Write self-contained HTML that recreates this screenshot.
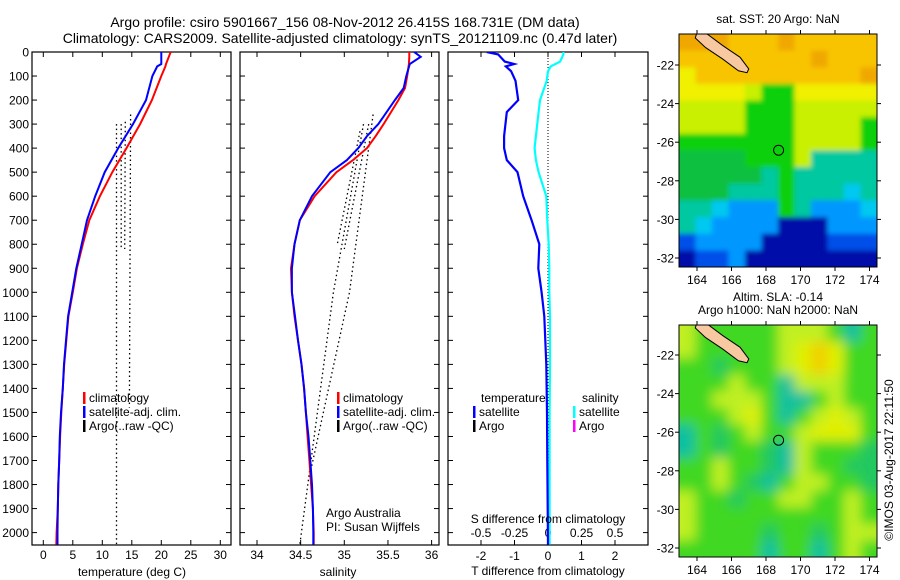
<!DOCTYPE html>
<html><head><meta charset="utf-8"><style>
html,body{margin:0;padding:0;background:#fff;}
svg{display:block;font-family:"Liberation Sans",sans-serif;}
</style></head><body>
<svg id="fig" width="900" height="580" viewBox="0 0 900 580" xmlns="http://www.w3.org/2000/svg">
<defs>
<clipPath id="cp1"><rect x="32" y="52" width="199" height="493"/></clipPath>
<clipPath id="cp2"><rect x="240" y="52" width="199" height="493"/></clipPath>
<clipPath id="cp3"><rect x="448" y="52" width="200" height="493"/></clipPath>
<clipPath id="cm1"><rect x="679" y="34" width="198" height="233"/></clipPath>
<clipPath id="cm2"><rect x="679" y="325" width="198" height="232"/></clipPath>
<filter id="blur" x="-5%" y="-5%" width="110%" height="110%"><feGaussianBlur stdDeviation="6"/></filter>
<filter id="blur1" x="-5%" y="-5%" width="110%" height="110%"><feGaussianBlur stdDeviation="2.5"/></filter>
</defs>
<text x="345" y="27" font-size="14" text-anchor="middle">Argo profile: csiro 5901667_156 08-Nov-2012 26.415S 168.731E (DM data)</text>
<text x="340" y="43" font-size="14" text-anchor="middle">Climatology: CARS2009. Satellite-adjusted climatology: synTS_20121109.nc (0.47d later)</text>
<g id="g1"></g>
<g id="g2"></g>
<g id="g3"></g>
<g id="m1"></g>
<g id="m2"></g>
<text transform="translate(893,460) rotate(-90)" font-size="12" text-anchor="middle">©IMOS 03-Aug-2017 22:11:50</text>
</svg>
<script>
// ---- data ----
const depthT = [0,50,60,100,200,300,400,500,600,700,800,900,1000,1100,1200,1300,1400,1500,1600,1700,1800,1900,2000,2050];
const tempClim = [21.6,20.8,20.7,20.0,18.4,16.4,14.1,11.7,9.6,7.8,6.7,5.7,5.0,4.25,3.9,3.55,3.3,3.05,2.85,2.7,2.55,2.45,2.25,2.2];
const tempSat  = [20.0,20.0,19.3,18.5,17.4,15.2,12.7,10.4,8.8,7.4,6.5,5.6,4.9,4.2,3.85,3.5,3.3,3.0,2.8,2.7,2.55,2.45,2.4,2.4];
const depthS = [0,20,50,100,150,200,300,350,400,450,500,600,700,800,900,1000,1100,1200,1300,1400,1500,1600,1700,1800,1900,2000,2050];
const salClim = [35.745,35.745,35.74,35.72,35.695,35.62,35.45,35.36,35.26,35.10,34.91,34.66,34.49,34.43,34.39,34.40,34.43,34.47,34.51,34.54,34.56,34.58,34.60,34.62,34.64,34.65,34.65];
const salSat  = [35.80,35.875,35.75,35.71,35.68,35.58,35.39,35.26,35.16,35.03,34.84,34.63,34.49,34.43,34.40,34.40,34.435,34.47,34.51,34.54,34.56,34.59,34.61,34.63,34.64,34.645,34.645];
const argoTDepth = [[300,2050],[260,1480],[300,820],[290,820]];
const argoTVal = [[12.4,12.4],[14.8,14.6],[13.2,13.2],[13.9,13.8]];
const argoSDepth = [[300,1000,2050],[260,1000,1750],[300,820],[330,800]];
const argoSVal = [[35.22,34.875,34.49],[35.33,35.06,34.61],[35.28,35.0],[35.18,34.92]];
const depthD = [0,10,40,50,60,80,120,200,250,350,400,450,500,600,700,800,900,1000,1100,1300,1500,1700,1900,2050];
const dTemp = [-1.83,-1.49,-1.29,-1.01,-1.26,-1.1,-0.97,-0.89,-1.23,-1.31,-1.31,-1.23,-0.91,-0.74,-0.49,-0.26,-0.29,-0.19,-0.11,-0.05,-0.03,-0.02,-0.01,0];
const dSal = [0.115,0.115,0.09,0.055,0.02,0,-0.01,-0.06,-0.07,-0.09,-0.1,-0.09,-0.07,-0.013,-0.005,0.005,0.01,0.01,0.015,0.015,0.012,0.012,0.012,0.012];
const depthTicks = [0,100,200,300,400,500,600,700,800,900,1000,1100,1200,1300,1400,1500,1600,1700,1800,1900,2000];
const tempTicks = [0,5,10,15,20,25,30];
const salTicks = [34,34.5,35,35.5,36];
const salTickLabels = ['34','34.5','35','35.5','36'];
const dTTicks = [-2,-1,0,1,2];
const dSTicks = [-0.5,-0.25,0,0.25,0.5];
const dSTickLabels = ['-0.5','-0.25','0','0.25','0.5'];
const lonTicks = [164,166,168,170,172,174];
const latTicks = [-22,-24,-26,-28,-30,-32];
const sstRows = ["OOOoooOooooo","ooooooooOooo","YooooooooooO","YYYYyGGYYYYY","yyyyGGGyyyyy","yyyyGGGyyyyG","GGGGGGGyyyyG","ggggGGGycccc","gggggcGccccc","gggcccGcccCc","ccCbbbGcbbbC","cCbbbbNNNbbb","BbbbbNNNNBBB","NBBbNNNNNNNN"];
const slaRows = ["yGGGGGyyyGcG","yGGGGGyYOYGG","GGgGGGyYOYGG","GGGyGGcyyyGG","GGyyyGccGyGG","GGGyYGcGyYyG","cGgGyGGyYYYG","cGgGGgcyGGGg","GGyGGgcyGGgg","GGyGgcGyyGGg","yGGgGGyyGGyG","yGGGGGGGGGyG","yGGGGgGGgGyy","GGGGGcGGcGyG"];
const landLon = [164.0,164.6,165.5,166.5,167.0,166.9,166.4,165.5,164.5,163.9];
const landLat = [-20.3,-20.4,-21.0,-21.6,-22.2,-22.4,-22.3,-21.7,-21.1,-20.6];
const profLon = 168.73, profLat = -26.415;

// ---- helpers ----
const NS = 'http://www.w3.org/2000/svg';
function mk(parent, tag, attrs, txt){const e=document.createElementNS(NS,tag);for(const k in attrs)e.setAttribute(k,attrs[k]);if(txt!==undefined)e.textContent=txt;parent.appendChild(e);return e;}
const yD = d => 52 + d*0.2403;
const x1 = t => 43.3 + t*5.9;
const x2 = s => 257 + (s-34)*87.3;
const x3 = v => 548 + v*33.5;
const x3s = v => 548 + v*134;
function pathOf(xs, ys, fx){return xs.map((v,i)=>(i?'L':'M')+fx(v).toFixed(1)+','+yD(ys[i]).toFixed(1)).join('');}

function frame(g, x0, x1e, leftLabels){
  const b=mk(g,'rect',{x:x0,y:52,width:x1e-x0,height:493,fill:'none',stroke:'#000','stroke-width':1.2});
  
  
  depthTicks.forEach(d=>{
    const y=yD(d);
    mk(g,'line',{x1:x0,x2:x0+5,y1:y,y2:y,stroke:'#000'});
    mk(g,'line',{x1:x1e-5,x2:x1e,y1:y,y2:y,stroke:'#000'});
    if(leftLabels){const t=mk(g,'text',{x:29,y:y+4.5,'font-size':12,'text-anchor':'end'},String(d));
      
      }
  });
}
function xticks(g, vals, labels, fx, yLab){
  vals.forEach((v,i)=>{const X=fx(v);
    mk(g,'line',{x1:X,x2:X,y1:52,y2:57,stroke:'#000'});
    mk(g,'line',{x1:X,x2:X,y1:540,y2:545,stroke:'#000'});
    const t=mk(g,'text',{x:X,y:yLab,'font-size':12,'text-anchor':'middle'},labels[i]);
    
    
  });
}
function legendEntry(g,x,y,col,label){
  mk(g,'rect',{x:x,y:y-10,width:2.5,height:12,fill:col});
  const t=mk(g,'text',{x:x+6,y:y,'font-size':12},label);
  
  
}

// ---- panel 1: temperature ----
const g1=document.getElementById('g1');
frame(g1,32,231,true);
xticks(g1,tempTicks,tempTicks.map(String),x1,559);
const gc1=mk(g1,'g',{'clip-path':'url(#cp1)'});
argoTVal.forEach((vals,i)=>{const p=mk(gc1,'path',{d:pathOf(vals,argoTDepth[i],x1),stroke:'#000',fill:'none','stroke-width':1.3,'stroke-dasharray':'1.5,3'});
  
  });
let p=mk(gc1,'path',{d:pathOf(tempClim,depthT,x1),stroke:'#f00',fill:'none','stroke-width':2});


p=mk(gc1,'path',{d:pathOf(tempSat,depthT,x1),stroke:'#00f',fill:'none','stroke-width':2});


legendEntry(g1,83,402,'#f00','climatology');
legendEntry(g1,83,416,'#00f','satellite-adj. clim.');
legendEntry(g1,83,430,'#000','Argo(..raw -QC)');
let t=mk(g1,'text',{x:132,y:576,'font-size':12,'text-anchor':'middle'},'temperature (deg C)');



// ---- panel 2: salinity ----
const g2=document.getElementById('g2');
frame(g2,240,439,false);
xticks(g2,salTicks,salTickLabels,x2,559);
const gc2=mk(g2,'g',{'clip-path':'url(#cp2)'});
argoSVal.forEach((vals,i)=>{const q=mk(gc2,'path',{d:pathOf(vals,argoSDepth[i],x2),stroke:'#000',fill:'none','stroke-width':1.3,'stroke-dasharray':'1.5,3'});
  
  });
p=mk(gc2,'path',{d:pathOf(salClim,depthS,x2),stroke:'#f00',fill:'none','stroke-width':2});


p=mk(gc2,'path',{d:pathOf(salSat,depthS,x2),stroke:'#00f',fill:'none','stroke-width':2});


legendEntry(g2,337,402,'#f00','climatology');
legendEntry(g2,337,416,'#00f','satellite-adj. clim.');
legendEntry(g2,337,430,'#000','Argo(..raw -QC)');
t=mk(g2,'text',{x:326,y:517,'font-size':12},'Argo Australia');


t=mk(g2,'text',{x:326,y:531,'font-size':12},'PI: Susan Wijffels');


t=mk(g2,'text',{x:338,y:576,'font-size':12,'text-anchor':'middle'},'salinity');



// ---- panel 3: differences ----
const g3=document.getElementById('g3');
frame(g3,448,648,false);
xticks(g3,dTTicks,dTTicks.map(String),x3,560);
dSTicks.forEach((v,i)=>{const q=mk(g3,'text',{x:x3s(v),y:537,'font-size':12,'text-anchor':'middle'},dSTickLabels[i]);
  
  });
const gc3=mk(g3,'g',{'clip-path':'url(#cp3)'});
mk(gc3,'line',{x1:x3(0),x2:x3(0),y1:52,y2:545,stroke:'#000','stroke-dasharray':'1,2'});
p=mk(gc3,'path',{d:pathOf(dSal,depthD,x3s),stroke:'#0ff',fill:'none','stroke-width':2.2});


p=mk(gc3,'path',{d:pathOf(dTemp,depthD,x3),stroke:'#00f',fill:'none','stroke-width':2.2});


t=mk(g3,'text',{x:481,y:402,'font-size':12},'temperature');


t=mk(g3,'text',{x:582,y:402,'font-size':12},'salinity');


legendEntry(g3,473,416,'#00f','satellite');
legendEntry(g3,473,430,'#000','Argo');
legendEntry(g3,573,416,'#0ff','satellite');
legendEntry(g3,573,430,'#f0f','Argo');
t=mk(g3,'text',{x:548,y:523,'font-size':12,'text-anchor':'middle'},'S difference from climatology');


t=mk(g3,'text',{x:548,y:575,'font-size':12,'text-anchor':'middle'},'T difference from climatology');



// ---- maps ----
const pal={O:'#f0a800',o:'#f8c400',Y:'#f0f000',y:'#c8f000',G:'#10d010',g:'#10c040',c:'#00c8a0',C:'#00c8f0',b:'#0098ff',B:'#0050e8',N:'#0008a8'};
const pal2={O:'#f0d000',Y:'#e0f000',y:'#c0f020',G:'#40d820',g:'#20c860',c:'#10c0a0'};
function drawMap(id, x0,y0,w,h, rows, palette, clip, filt, yOf, titles){
  const g=document.getElementById(id);
  titles.forEach((s,i)=>{const q=mk(g,'text',{x:x0+w/2,y:y0-(titles.length-i)*13+2,'font-size':12,'text-anchor':'middle'},s);
    
    });
  const gc=mk(g,'g',{'clip-path':'url('+clip+')'});
  const gi=mk(gc,'g',{filter:'url('+filt+')'});
  const nr=rows.length, nc=rows[0].length, cw=w/nc, ch=h/nr;
  mk(gi,'rect',{x:x0-10,y:y0-10,width:w+20,height:h+20,fill:palette.G});
  rows.forEach((r,i)=>{for(let j=0;j<r.length;j++){
    let X=x0+j*cw, Y=y0+i*ch, W=cw+0.6, H=ch+0.6;
    if(j==0){X-=12;W+=12;} if(j==nc-1){W+=12;} if(i==0){Y-=12;H+=12;} if(i==nr-1){H+=12;}
    mk(gi,'rect',{x:X.toFixed(1),y:Y.toFixed(1),width:W.toFixed(1),height:H.toFixed(1),fill:palette[r[j]]||palette.G});
  }});
  const xL = lon => 697 + (lon-164)*17.25;
  const land=mk(gc,'polygon',{points:landLon.map((v,i)=>xL(v).toFixed(1)+','+yOf(landLat[i]).toFixed(1)).join(' '),fill:'#f8c8a0',stroke:'#000','stroke-width':1});
  
  
  const c=mk(gc,'circle',{cx:xL(profLon),cy:yOf(profLat),r:5,fill:'none',stroke:'#000','stroke-width':1});
  
  
  const fr=mk(g,'rect',{x:x0,y:y0,width:w,height:h,fill:'none',stroke:'#000','stroke-width':1});
  
  
  lonTicks.forEach(v=>{const X=xL(v);
    mk(g,'line',{x1:X,x2:X,y1:y0+h,y2:y0+h+4,stroke:'#000'});
    mk(g,'line',{x1:X,x2:X,y1:y0,y2:y0-4,stroke:'#000'});
    const q=mk(g,'text',{x:X,y:y0+h+17,'font-size':12,'text-anchor':'middle'},String(v));
    
    });
  latTicks.forEach(v=>{const Y=yOf(v);
    mk(g,'line',{x1:x0-4,x2:x0,y1:Y,y2:Y,stroke:'#000'});
    mk(g,'line',{x1:x0+w,x2:x0+w+4,y1:Y,y2:Y,stroke:'#000'});
    const q=mk(g,'text',{x:x0-5,y:Y+4.5,'font-size':12,'text-anchor':'end'},String(v));
    
    });
}
drawMap('m1',679,34,198,233,sstRows,pal,'#cm1','#blur1',lat=>65+(-22-lat)*19.3,['sat. SST: 20 Argo: NaN']);
drawMap('m2',679,325,198,232,slaRows,pal2,'#cm2','#blur',lat=>355+(-22-lat)*19.3,['Altim. SLA: -0.14','Argo h1000: NaN h2000: NaN']);
</script>
</body></html>
